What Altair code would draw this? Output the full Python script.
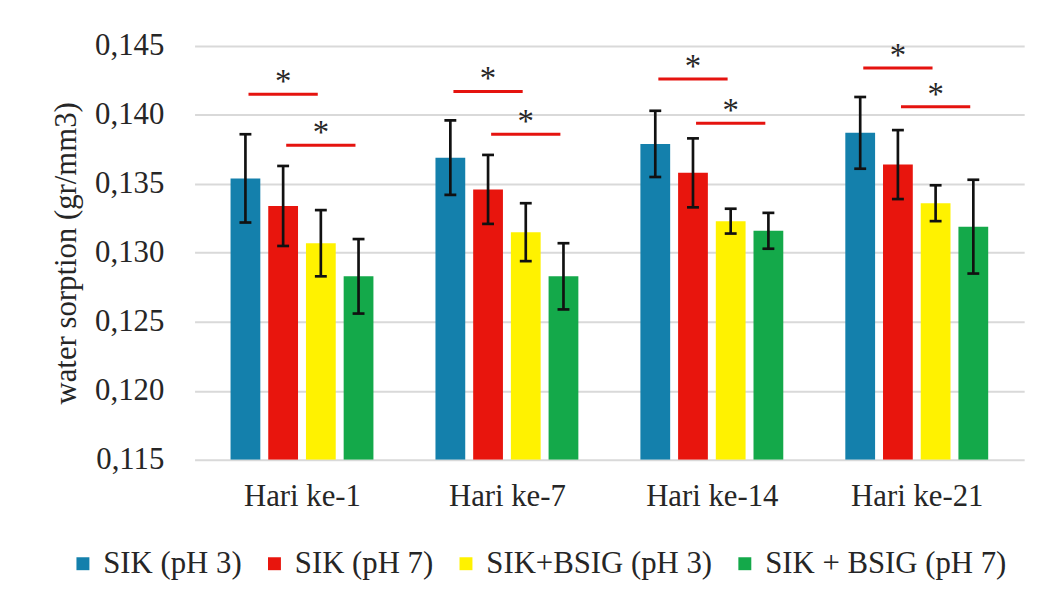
import altair as alt
import pandas as pd

groups = ["Hari ke-1", "Hari ke-7", "Hari ke-14", "Hari ke-21"]
series = ["SIK (pH 3)", "SIK (pH 7)", "SIK+BSIG (pH 3)", "SIK + BSIG (pH 7)"]
colors = ["#1480AC", "#E8150D", "#FFF200", "#14A94A"]

sik_ph3 = [0.1354, 0.1369, 0.1379, 0.1387]
sik_ph7 = [0.1334, 0.1346, 0.1358, 0.1364]
bsig_ph3 = [0.1307, 0.1315, 0.1323, 0.1336]
bsig_ph7 = [0.1283, 0.1283, 0.1316, 0.1319]

err_sik_ph3 = [0.0032, 0.0027, 0.0024, 0.0026]
err_sik_ph7 = [0.0029, 0.0025, 0.0025, 0.0025]
err_bsig_ph3 = [0.0024, 0.0021, 0.0009, 0.0013]
err_bsig_ph7 = [0.0027, 0.0024, 0.0013, 0.0034]

# significance bars: upper one spans SIK (pH 3) -> SIK+BSIG (pH 3),
# lower one spans SIK (pH 7) -> SIK + BSIG (pH 7)
sig_upper = [0.1415, 0.1417, 0.1426, 0.1434]
sig_lower = [0.1378, 0.1386, 0.1394, 0.1406]

y_ticks = [0.115, 0.120, 0.125, 0.130, 0.135, 0.140, 0.145]

FONT = "Liberation Serif, Times New Roman, serif"
TEXT = "#262626"
STEP = 0.184   # spacing between bars inside a group (in group units)
INSET = 0.015

values = [sik_ph3, sik_ph7, bsig_ph3, bsig_ph7]
errors = [err_sik_ph3, err_sik_ph7, err_bsig_ph3, err_bsig_ph7]
rows = []
for s, name in enumerate(series):
    for g in range(len(groups)):
        rows.append({"g": g + 1, "s": s, "series": name,
                     "value": values[s][g], "err": errors[s][g]})
df = pd.DataFrame(rows)

sig_rows = []
for g in range(len(groups)):
    sig_rows.append({"g": g + 1, "y": sig_upper[g], "s1": 0, "s2": 2})
    sig_rows.append({"g": g + 1, "y": sig_lower[g], "s1": 1, "s2": 3})
sig = pd.DataFrame(sig_rows)

label_expr = "[" + ",".join("'%s'" % t for t in groups) + "][datum.value - 1]"

xscale = alt.Scale(domain=[0.5, 4.5], nice=False, zero=False)
yscale = alt.Scale(domain=[0.115, 0.145], nice=False, zero=False)

base = alt.Chart(df).transform_calculate(
    xpos=f"datum.g + (datum.s - 1.5) * {STEP}",
    lo="datum.value - datum.err",
    hi="datum.value + datum.err",
)

bars = base.mark_bar(size=30, clip=True).encode(
    x=alt.X("xpos:Q", scale=xscale, title=None,
            axis=alt.Axis(values=[1, 2, 3, 4], labelExpr=label_expr, grid=False,
                          domain=False, ticks=False, tickSize=0, labelPadding=22,
                          labelFontSize=31, labelFont=FONT, labelColor=TEXT)),
    y=alt.Y("value:Q", scale=yscale,
            title="water sorption (gr/mm3)",
            axis=alt.Axis(values=y_ticks,
                          labelExpr="replace(format(datum.value, '.3f'), '.', ',')",
                          domain=False, ticks=False, tickSize=0, labelPadding=31,
                          labelFontSize=31, labelFont=FONT, labelColor=TEXT,
                          titleFont=FONT, titleFontSize=31, titleFontWeight="normal",
                          titleColor=TEXT, titlePadding=12,
                          gridColor="#D9D9D9", gridWidth=2)),
    y2=alt.datum(0.115),
    color=alt.Color("series:N", scale=alt.Scale(domain=series, range=colors),
                    legend=alt.Legend(title=None, orient="none", direction="horizontal",
                                      columns=4, legendX=-128, legendY=506,
                                      symbolType="square", symbolSize=170,
                                      symbolStrokeWidth=0, labelFont=FONT,
                                      labelFontSize=31, labelColor=TEXT,
                                      labelOffset=5, columnPadding=17, labelLimit=0)),
)

err_rule = base.mark_rule(color="#111111", strokeWidth=2.7).encode(
    x="xpos:Q", y="lo:Q", y2="hi:Q")
cap_hi = base.mark_tick(orient="horizontal", size=12, thickness=2.7,
                        color="#111111", opacity=1).encode(x="xpos:Q", y="hi:Q")
cap_lo = base.mark_tick(orient="horizontal", size=12, thickness=2.7,
                        color="#111111", opacity=1).encode(x="xpos:Q", y="lo:Q")

sig_base = alt.Chart(sig).transform_calculate(
    x1=f"datum.g + (datum.s1 - 1.5) * {STEP} + {INSET}",
    x2=f"datum.g + (datum.s2 - 1.5) * {STEP} - {INSET}",
    xm=f"datum.g + ((datum.s1 + datum.s2) / 2 - 1.5) * {STEP}",
)
sig_lines = sig_base.mark_rule(color="#E5130F", strokeWidth=3).encode(
    x="x1:Q", x2="x2:Q", y="y:Q")
sig_stars = sig_base.mark_text(text="*", font=FONT, fontSize=33, color=TEXT,
                               baseline="alphabetic", dy=-2).encode(
    x="xm:Q", y="y:Q")

chart = alt.layer(bars, err_rule, cap_hi, cap_lo, sig_lines, sig_stars).properties(
    width=836, height=417,
    autosize=alt.AutoSizeParams(type="none"),
    padding={"left": 188, "top": 36, "right": 24, "bottom": 132},
    background="white",
).configure_view(stroke=None)

chart.save("out.html", embed_options={"renderer": "svg", "actions": False})
